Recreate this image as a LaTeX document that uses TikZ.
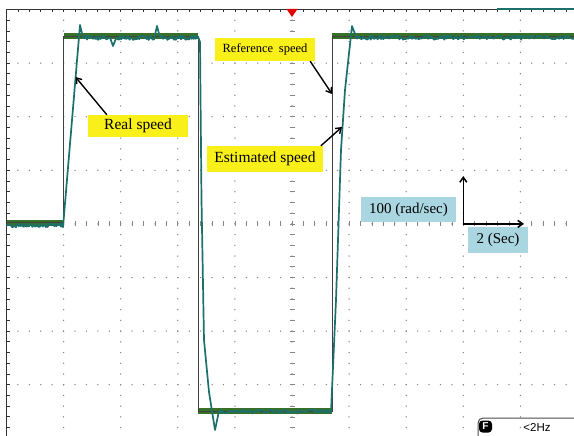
\documentclass[tikz,border=0pt]{standalone}
\usepackage{fontspec}
\setmainfont{Liberation Serif}
\newfontfamily\uisans{Liberation Sans}
\usetikzlibrary{arrows.meta,calc}
\definecolor{refgreen}{RGB}{56,112,40}
\definecolor{trace}{RGB}{28,112,108}
\definecolor{lblyellow}{RGB}{250,240,25}
\definecolor{lblblue}{RGB}{170,214,226}
\definecolor{griddot}{RGB}{135,135,135}
\tikzset{
  ylabel/.style={fill=lblyellow, inner sep=0pt, font=\fontsize{15.5}{15.5}\selectfont},
  blabel/.style={fill=lblblue, inner sep=0pt, font=\fontsize{15}{15}\selectfont},
  pointer/.style={line width=1.4pt, -{Straight Barb[length=5pt,width=7pt]}},
  scalearrow/.style={line width=1.5pt, -{Straight Barb[length=5pt,width=7pt]}},
  refband/.style={refgreen, line width=6pt},
  refline/.style={black!75, line width=0.8pt},
  tracestyle/.style={trace, line width=1.7pt, line join=round},
  borderline/.style={black!80, line width=0.8pt}
}
\begin{document}
\begin{tikzpicture}[x=1pt,y=-1pt]
\useasboundingbox (0,0) rectangle (574,436);
\fill[white] (0,0) rectangle (574,436);
% grid dots along vertical major lines
\foreach \i in {1,...,9}{
  \foreach \j in {1,...,40}{
    \fill[griddot] ({6.5+57.1*\i},{9.5+10.72*\j}) circle (0.75pt);
  }
}
% grid dots along horizontal major lines
\foreach \j in {1,...,7}{
  \foreach \i in {1,...,50}{
    \fill[griddot] ({6.5+11.42*\i},{9.5+53.6*\j}) circle (0.75pt);
  }
}
% center ticks
\foreach \j in {1,...,40}{
  \draw[griddot, line width=0.7pt] (289.5,{9.5+10.72*\j}) -- (294.5,{9.5+10.72*\j});
}
\foreach \i in {1,...,50}{
  \draw[griddot, line width=0.7pt] ({6.5+11.42*\i},221.4) -- ({6.5+11.42*\i},226.4);
}
% borders with ticks
\draw[borderline] (6.5,9.5) -- (6.5,436);
\draw[borderline] (6.5,9.5) -- (574,9.5);
\foreach \j in {1,...,40}{
  \draw[borderline] (6.5,{9.5+10.72*\j}) -- (10,{9.5+10.72*\j});
}
\foreach \i in {1,...,50}{
  \draw[borderline] ({6.5+11.42*\i},9.5) -- ({6.5+11.42*\i},12.5);
}
% top-right trace fragment
\draw[trace, line width=2.4pt] (497,9) -- (574,9);
% trigger marker
\fill[red!90!black] (286.5,9) -- (297.5,9) -- (292,17) -- cycle;
% reference speed
\draw[refband] (6.5,223) -- (63.6,223);
\draw[refband] (63.6,36) -- (198,36);
\draw[refband] (198,411) -- (332,411);
\draw[refband] (332,36) -- (574,36);
\draw[refline] (6.5,222) -- (63.6,222) -- (63.6,36) -- (198,36) -- (198,411) -- (332,411) -- (332,36) -- (574,36);
% real / estimated speed
\pgfmathsetseed{11}
\draw[tracestyle]
  plot[domain=6.5:63, samples=60] (\x,{225.5+2*rand})
  -- (80,25) -- (83,37.5)
  -- plot[domain=84:110, samples=26] (\x,{37.8+2.2*rand})
  -- (113,46) -- (116,38.5)
  -- plot[domain=117:154, samples=36] (\x,{37.8+2.2*rand})
  -- (157,26) -- (160,37.5)
  -- plot[domain=161:198, samples=36] (\x,{37.8+2.2*rand})
  -- (200,42) -- (201.5,200) -- (204,340) -- (209,392) -- (215,430) -- (219,411)
  -- plot[domain=220:331, samples=100] (\x,{411.5+2*rand})
  -- (336,300) -- (341,150) -- (345,90) -- (352,26) -- (356,36.5)
  -- plot[domain=357:574, samples=190] (\x,{37.5+2.2*rand});
% labels
\node[ylabel, minimum width=100pt, minimum height=22pt] (real) at (138,126) {Real speed};
\node[ylabel, minimum width=100pt, minimum height=23pt, font=\fontsize{12.5}{12.5}\selectfont] (ref) at (265,49.5) {Reference\hspace{0.45em}speed};
\node[ylabel, minimum width=116pt, minimum height=26pt] (est) at (265,159) {Estimated speed};
\node[blabel, minimum width=95pt, minimum height=25pt] (yscale) at (408.5,209.5) {100 (rad/sec)};
\node[blabel, minimum width=60pt, minimum height=26pt] (xscale) at (498,240) {2 (Sec)};
% pointer targets
\coordinate (realtip) at (75.5,77);
\coordinate (reftip) at (332,94);
\coordinate (esttip) at (342,127);
\draw[pointer] ($(real.north west)!0.19!(real.north east)$) -- (realtip);
\draw[pointer] ($(ref.south west)!0.95!(ref.south east)$) -- (reftip);
\draw[pointer] ($(est.north west)!0.98!(est.north east)$) -- (esttip);
% scale axes
\coordinate (orig) at (463.3,223.9);
\coordinate (yend) at (463.3,176);
\coordinate (xend) at (524,223.9);
\draw[scalearrow] (orig) -- (yend);
\draw[scalearrow] (orig) -- (xend);
% status bar
\draw[black!70, line width=1pt, rounded corners=5pt] (478,436) -- (478,418) -- (574,418);
\node[fill=black, rounded corners=3.5pt, text=white, font=\uisans\bfseries\fontsize{10}{10}\selectfont, minimum width=13pt, minimum height=12pt, inner sep=0pt] (badge) at (485.5,426.5) {F};
\node[font=\uisans\fontsize{11.5}{11.5}\selectfont, inner sep=0pt] (freq) at (537,427) {<2Hz};
\end{tikzpicture}
\end{document}
